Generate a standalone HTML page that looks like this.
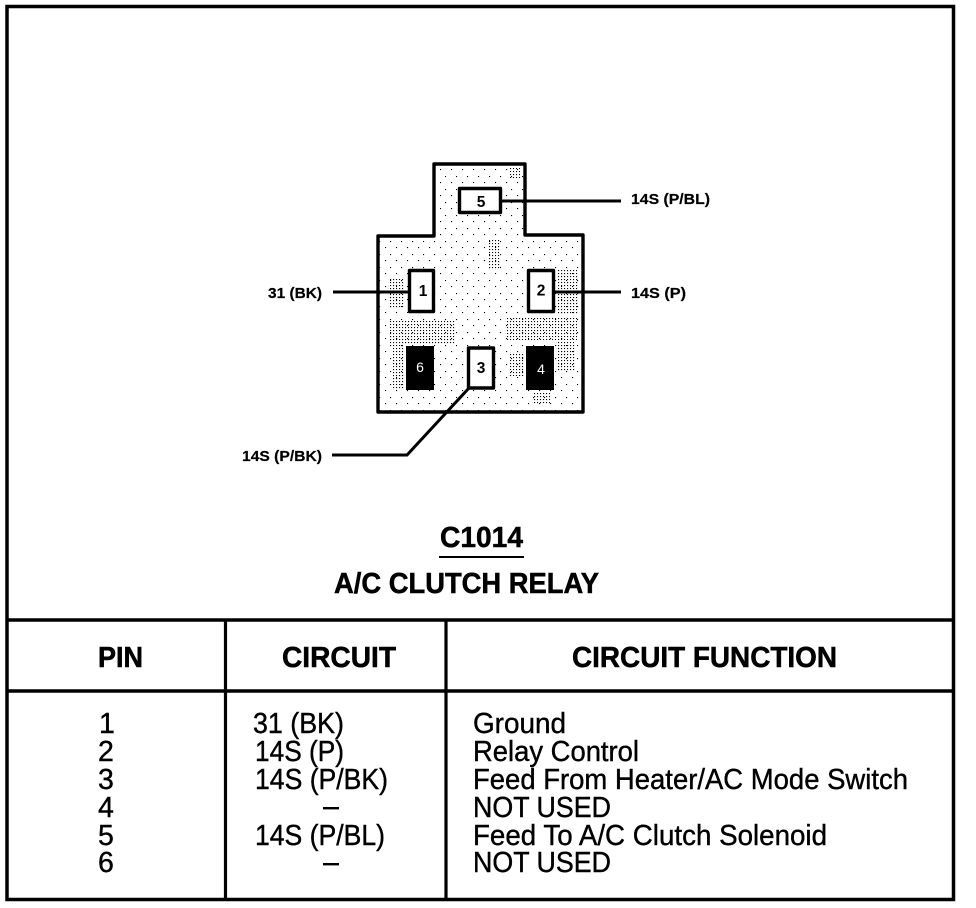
<!DOCTYPE html>
<html><head><meta charset="utf-8"><title>C1014 A/C Clutch Relay</title>
<style>
html,body{margin:0;padding:0;background:#fff;width:976px;height:908px;overflow:hidden}
svg{display:block}
text{font-family:"Liberation Sans",Arial,sans-serif;fill:#000}
.b{font-weight:bold;font-size:28.500px;stroke:#000;stroke-width:.5}
.r{font-size:28.500px;stroke:#000;stroke-width:.4}
.s{font-weight:bold;font-size:14.500px;stroke:#000;stroke-width:.2}
.p{font-weight:bold;font-size:15.500px}
</style></head><body>
<svg width="976" height="908" viewBox="0 0 976 908" xmlns="http://www.w3.org/2000/svg">
<defs>
<pattern id="d1" width="3" height="3" patternUnits="userSpaceOnUse"><rect width="1.100" height="1.100" fill="#000"/></pattern>
<pattern id="d2" width="11" height="13" patternUnits="userSpaceOnUse"><rect width="1.100" height="1.100" fill="#000"/><rect x="5" y="7" width="1.100" height="1.100" fill="#000"/></pattern>
<clipPath id="body"><path d="M434 164H525V235H583V412H378V236H434Z"/></clipPath>
</defs>
<rect width="976" height="908" fill="#fff"/>
<!-- outer frame -->
<rect x="7" y="6.500" width="946.500" height="893" fill="none" stroke="#000" stroke-width="3.500"/>
<!-- table lines -->
<path d="M7 620H953M7 691H953" stroke="#000" stroke-width="3.400" fill="none"/>
<path d="M225.500 620V899M446 620V899" stroke="#000" stroke-width="3.200" fill="none"/>
<!-- connector -->
<path d="M434 164H525V235H583V412H378V236H434Z" fill="#fff"/>
<g clip-path="url(#body)">
<rect x="378" y="164" width="206" height="250" fill="url(#d2)"/>
<rect x="390" y="320" width="65" height="24" fill="url(#d1)"/>
<rect x="505" y="318" width="72" height="22" fill="url(#d1)"/>
<rect x="393" y="345" width="12" height="45" fill="url(#d1)"/>
<rect x="510" y="352" width="14" height="24" fill="url(#d1)"/>
<rect x="556" y="342" width="20" height="30" fill="url(#d1)"/>
<rect x="558" y="270" width="20" height="45" fill="url(#d1)"/>
<rect x="388" y="278" width="16" height="30" fill="url(#d1)"/>
<rect x="488" y="240" width="12" height="30" fill="url(#d1)"/>
<rect x="510" y="168" width="10" height="12" fill="url(#d1)"/>
<rect x="532" y="392" width="18" height="12" fill="url(#d1)"/>
</g>
<path d="M434 236V164H525V235H583V412H378V236Z" fill="none" stroke="#000" stroke-width="3.400" stroke-linejoin="round"/>
<!-- wires -->
<g stroke="#000" stroke-width="3" fill="none">
<path d="M501 201H621"/>
<path d="M333 292H408"/>
<path d="M554 292H621"/>
<path d="M469 388L407 455H332"/>
</g>
<!-- pins -->
<g fill="#fff" stroke="#000" stroke-width="3.400" stroke-linejoin="round">
<rect x="459.500" y="188.500" width="41" height="24"/>
<rect x="409.500" y="270.500" width="24" height="41"/>
<rect x="528.500" y="270.500" width="25" height="41"/>
<rect x="468.500" y="348" width="25" height="40"/>
</g>
<rect x="406" y="346" width="28" height="44" fill="#000"/>
<rect x="526" y="346" width="28" height="44" fill="#000"/>
<text class="p" x="481" y="207" text-anchor="middle">5</text>
<text class="p" x="423" y="296" text-anchor="middle">1</text>
<text class="p" x="541" y="295.500" text-anchor="middle">2</text>
<text class="p" x="481" y="373" text-anchor="middle">3</text>
<text x="420" y="372" text-anchor="middle" font-size="14" style="fill:#fff">6</text>
<text x="541" y="374" text-anchor="middle" font-size="14" style="fill:#fff">4</text>
<!-- wire labels -->
<text class="s" x="631" y="204" textLength="79" lengthAdjust="spacingAndGlyphs">14S (P/BL)</text>
<text class="s" x="631" y="298" textLength="55" lengthAdjust="spacingAndGlyphs">14S (P)</text>
<text class="s" x="268" y="298" textLength="54" lengthAdjust="spacingAndGlyphs">31 (BK)</text>
<text class="s" x="242" y="461" textLength="80" lengthAdjust="spacingAndGlyphs">14S (P/BK)</text>
<!-- title -->
<text class="b" x="440" y="547" textLength="83" lengthAdjust="spacingAndGlyphs">C1014</text>
<rect x="439" y="556" width="85" height="2" fill="#000"/>
<text class="b" x="334" y="593" textLength="265" lengthAdjust="spacingAndGlyphs">A/C CLUTCH RELAY</text>
<!-- header -->
<text class="b" x="98" y="667" textLength="45" lengthAdjust="spacingAndGlyphs">PIN</text>
<text class="b" x="282" y="667" textLength="114" lengthAdjust="spacingAndGlyphs">CIRCUIT</text>
<text class="b" x="572" y="667" textLength="265" lengthAdjust="spacingAndGlyphs">CIRCUIT FUNCTION</text>
<!-- pin col -->
<text class="r" x="99" y="733">1</text>
<text class="r" x="98" y="761">2</text>
<text class="r" x="98" y="789">3</text>
<text class="r" x="98" y="817">4</text>
<text class="r" x="98" y="845">5</text>
<text class="r" x="98" y="872">6</text>
<!-- circuit col -->
<text class="r" x="253" y="733" textLength="91" lengthAdjust="spacingAndGlyphs">31 (BK)</text>
<text class="r" x="255" y="761" textLength="89" lengthAdjust="spacingAndGlyphs">14S (P)</text>
<text class="r" x="255" y="789" textLength="133" lengthAdjust="spacingAndGlyphs">14S (P/BK)</text>
<rect x="323" y="807" width="16" height="2.400" fill="#000"/>
<text class="r" x="255" y="845" textLength="130" lengthAdjust="spacingAndGlyphs">14S (P/BL)</text>
<rect x="323" y="863" width="16" height="2.400" fill="#000"/>
<!-- function col -->
<text class="r" x="473" y="733" textLength="93" lengthAdjust="spacingAndGlyphs">Ground</text>
<text class="r" x="473" y="761" textLength="166" lengthAdjust="spacingAndGlyphs">Relay Control</text>
<text class="r" x="473" y="789" textLength="435" lengthAdjust="spacingAndGlyphs">Feed From Heater/AC Mode Switch</text>
<text class="r" x="473" y="817" textLength="138" lengthAdjust="spacingAndGlyphs">NOT USED</text>
<text class="r" x="473" y="845" textLength="354" lengthAdjust="spacingAndGlyphs">Feed To A/C Clutch Solenoid</text>
<text class="r" x="473" y="872" textLength="138" lengthAdjust="spacingAndGlyphs">NOT USED</text>
</svg>
</body></html>
